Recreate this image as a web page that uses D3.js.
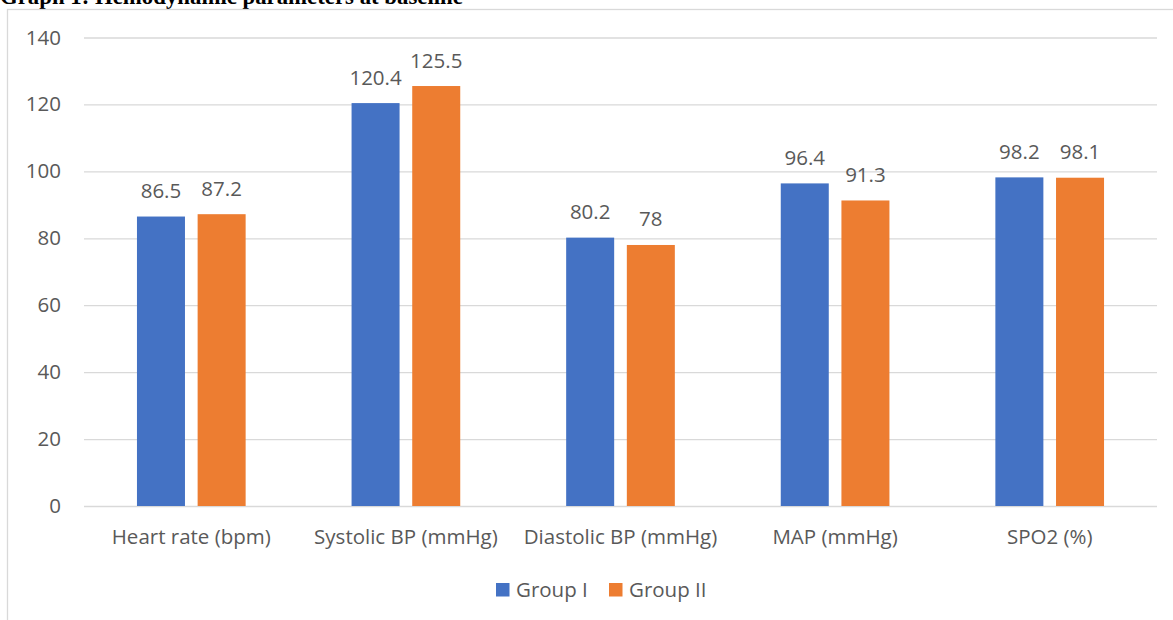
<!DOCTYPE html>
<html>
<head>
<meta charset="utf-8">
<script src="https://cdn.jsdelivr.net/npm/d3@7/dist/d3.min.js"></script>
<style>
  html, body { margin: 0; padding: 0; background: #ffffff; }
  svg { display: block; }
</style>
</head>
<body>
<svg id="chart" width="1173" height="620"></svg>
<script>
// Hemodynamic parameters at baseline, two study groups
const categories = ["Heart rate (bpm)", "Systolic BP (mmHg)", "Diastolic BP (mmHg)", "MAP (mmHg)", "SPO2 (%)"];
const seriesNames = ["Group I", "Group II"];
const groupI = [86.5, 120.4, 80.2, 96.4, 98.2];
const groupII = [87.2, 125.5, 78, 91.3, 98.1];
const yTicks = [0, 20, 40, 60, 80, 100, 120, 140];

const colors = ["#4472C4", "#ED7D31"];
const textColor = "#595959";
const gridColor = "#d9d9d9";
const font = "'Open Sans', 'Noto Sans', sans-serif";

const svg = d3.select("#chart");
const W = 1173, H = 620;
const plot = { left: 84, right: 1157, top: 37.5, bottom: 506 };

// Title (sits above the chart frame, partly above the page top)
svg.append("text")
  .attr("x", 0).attr("y", 4)
  .attr("font-family", "'Liberation Serif', 'Times New Roman', serif")
  .attr("font-weight", "bold")
  .attr("font-size", 22.8)
  .attr("fill", "#000")
  .text("Graph 1: Hemodynamic parameters at baseline");

// Chart frame
svg.append("rect")
  .attr("x", 7.5).attr("y", 9.5)
  .attr("width", W + 20).attr("height", H + 20)
  .attr("fill", "none")
  .attr("stroke", gridColor)
  .attr("stroke-width", 1.3);

const y = d3.scaleLinear().domain([0, 140]).range([plot.bottom, plot.top]);
const x0 = d3.scaleBand().domain(categories).range([plot.left, plot.right]).padding(0);
const bw = x0.bandwidth();
const barW = bw * 0.2237;
const barGap = bw * 0.059;
const x1 = d3.scaleOrdinal().domain(seriesNames)
  .range([bw / 2 - barGap / 2 - barW, bw / 2 + barGap / 2]);

// Gridlines and y tick labels
const yAxis = d3.axisLeft(y).tickValues(yTicks).tickSize(-(plot.right - plot.left)).tickPadding(23);
const gy = svg.append("g").attr("transform", `translate(${plot.left},0)`).call(yAxis);
gy.select(".domain").remove();
gy.selectAll(".tick line").attr("stroke", gridColor).attr("stroke-width", 1.3);
gy.selectAll(".tick text")
  .attr("font-family", font).attr("font-size", 20.5)
  .attr("fill", textColor);

// Category axis labels
const xAxis = d3.axisBottom(x0).tickSize(0).tickPadding(23);
const gx = svg.append("g").attr("transform", `translate(0,${plot.bottom})`).call(xAxis);
gx.select(".domain").remove();
gx.selectAll(".tick text")
  .attr("font-family", font).attr("font-size", 20.5)
  .attr("fill", textColor);

// Bars and value labels
const series = [groupI, groupII];
const rows = [];
categories.forEach((c, i) => {
  seriesNames.forEach((s, j) => rows.push({ cat: c, name: s, value: series[j][i], idx: j }));
});

const bars = svg.append("g");
bars.selectAll("rect").data(rows).join("rect")
  .attr("x", d => x0(d.cat) + x1(d.name))
  .attr("y", d => y(d.value))
  .attr("width", barW)
  .attr("height", d => y(0) - y(d.value))
  .attr("fill", d => colors[d.idx]);

bars.selectAll("text").data(rows).join("text")
  .attr("x", d => x0(d.cat) + x1(d.name) + barW / 2)
  .attr("y", d => y(d.value) - 18.5)
  .attr("text-anchor", "middle")
  .attr("font-family", font).attr("font-size", 20.5)
  .attr("fill", textColor)
  .text(d => d.value);

// Legend
const legendItems = [{ name: "Group I", x: 496 }, { name: "Group II", x: 609 }];
const lg = svg.append("g");
legendItems.forEach((d, i) => {
  lg.append("rect").attr("x", d.x).attr("y", 583).attr("width", 13.5).attr("height", 13.5).attr("fill", colors[i]);
  lg.append("text").attr("x", d.x + 20).attr("y", 597)
    .attr("font-family", font).attr("font-size", 20.5)
    .attr("fill", textColor).text(d.name);
});
</script>
</body>
</html>
